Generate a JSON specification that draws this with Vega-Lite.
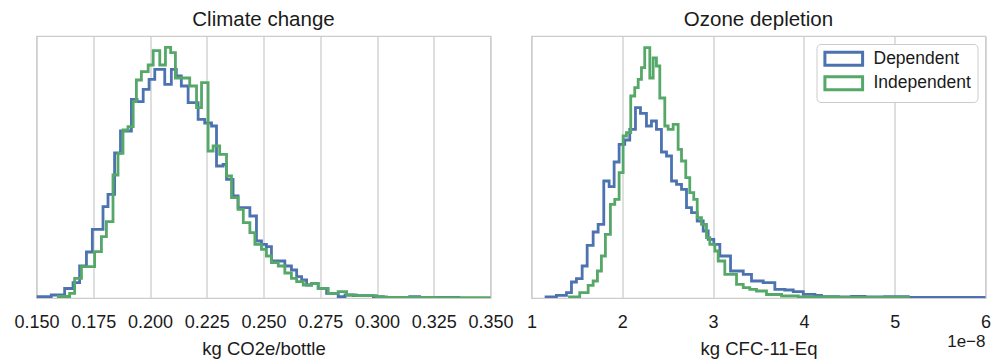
{
  "$schema": "https://vega.github.io/schema/vega-lite/v6.json",
  "background": "white",
  "padding": {"left": 12.5, "top": 8, "right": 5, "bottom": 5},
  "spacing": 41,
  "bounds": "flush",
  "config": {
    "font": "Liberation Sans",
    "view": {"stroke": "#cccccc", "strokeWidth": 1.25},
    "axis": {
      "grid": true, "gridColor": "#cccccc", "gridWidth": 1.25,
      "domain": false, "ticks": false, "labelOverlap": false, "labelBound": false, "labelFlush": false,
      "labelFont": "Liberation Sans", "labelFontSize": 18, "labelColor": "#1a1a1a", "labelPadding": 15,
      "titleFont": "Liberation Sans", "titleFontSize": 18.5, "titleFontWeight": "normal", "titleColor": "#1a1a1a", "titlePadding": 8
    },
    "title": {"font": "Liberation Sans", "fontSize": 20.5, "fontWeight": "normal", "color": "#1a1a1a", "offset": 6},
    "legend": {
      "labelFont": "Liberation Sans", "labelFontSize": 17.5, "labelColor": "#1a1a1a",
      "fillColor": "white", "strokeColor": "#cccccc", "cornerRadius": 4, "padding": 6, "rowPadding": -1.5
    }
  },
  "datasets": {
    "climate": [
      {"s": "Dependent", "x": 0.1500, "n": 1.3}, {"s": "Dependent", "x": 0.1565, "n": 3}, {"s": "Dependent", "x": 0.1624, "n": 9.5},
      {"s": "Dependent", "x": 0.1661, "n": 15.3}, {"s": "Dependent", "x": 0.1690, "n": 32}, {"s": "Dependent", "x": 0.1720, "n": 46},
      {"s": "Dependent", "x": 0.1746, "n": 68.7}, {"s": "Dependent", "x": 0.1793, "n": 91.3}, {"s": "Dependent", "x": 0.1815, "n": 103.7},
      {"s": "Dependent", "x": 0.1844, "n": 145}, {"s": "Dependent", "x": 0.1870, "n": 167}, {"s": "Dependent", "x": 0.1918, "n": 198.7},
      {"s": "Dependent", "x": 0.1943, "n": 196.3}, {"s": "Dependent", "x": 0.1970, "n": 208.7}, {"s": "Dependent", "x": 0.1996, "n": 218.7},
      {"s": "Dependent", "x": 0.2021, "n": 228.7}, {"s": "Dependent", "x": 0.2065, "n": 213.7}, {"s": "Dependent", "x": 0.2094, "n": 228.7},
      {"s": "Dependent", "x": 0.2116, "n": 222}, {"s": "Dependent", "x": 0.2138, "n": 212}, {"s": "Dependent", "x": 0.2168, "n": 195.3},
      {"s": "Dependent", "x": 0.2212, "n": 178.7}, {"s": "Dependent", "x": 0.2241, "n": 175}, {"s": "Dependent", "x": 0.2271, "n": 172},
      {"s": "Dependent", "x": 0.2293, "n": 132}, {"s": "Dependent", "x": 0.2322, "n": 133.7}, {"s": "Dependent", "x": 0.2337, "n": 118.7},
      {"s": "Dependent", "x": 0.2366, "n": 102}, {"s": "Dependent", "x": 0.2388, "n": 90.3}, {"s": "Dependent", "x": 0.2440, "n": 82},
      {"s": "Dependent", "x": 0.2469, "n": 57}, {"s": "Dependent", "x": 0.2491, "n": 53.7}, {"s": "Dependent", "x": 0.2513, "n": 51.3},
      {"s": "Dependent", "x": 0.2535, "n": 37}, {"s": "Dependent", "x": 0.2594, "n": 32}, {"s": "Dependent", "x": 0.2623, "n": 28},
      {"s": "Dependent", "x": 0.2646, "n": 21.3}, {"s": "Dependent", "x": 0.2668, "n": 18}, {"s": "Dependent", "x": 0.2690, "n": 13},
      {"s": "Dependent", "x": 0.2712, "n": 14.7}, {"s": "Dependent", "x": 0.2741, "n": 9.7}, {"s": "Dependent", "x": 0.2778, "n": 4.7},
      {"s": "Dependent", "x": 0.2829, "n": 1.3}, {"s": "Dependent", "x": 0.2859, "n": 3}, {"s": "Dependent", "x": 0.2896, "n": 2.3},
      {"s": "Dependent", "x": 0.2984, "n": 1.3}, {"s": "Dependent", "x": 0.3028, "n": 0.7}, {"s": "Dependent", "x": 0.3144, "n": 1.3},
      {"s": "Dependent", "x": 0.3188, "n": 0.5}, {"s": "Dependent", "x": 0.3360, "n": 0},
      {"s": "Independent", "x": 0.1590, "n": 1.5}, {"s": "Independent", "x": 0.1646, "n": 4.7}, {"s": "Independent", "x": 0.1668, "n": 19.7},
      {"s": "Independent", "x": 0.1698, "n": 31.3}, {"s": "Independent", "x": 0.1756, "n": 46.3}, {"s": "Independent", "x": 0.1786, "n": 61.3},
      {"s": "Independent", "x": 0.1808, "n": 76.3}, {"s": "Independent", "x": 0.1837, "n": 123}, {"s": "Independent", "x": 0.1859, "n": 144.7},
      {"s": "Independent", "x": 0.1881, "n": 168}, {"s": "Independent", "x": 0.1903, "n": 171.3}, {"s": "Independent", "x": 0.1926, "n": 196.3},
      {"s": "Independent", "x": 0.1940, "n": 218}, {"s": "Independent", "x": 0.1962, "n": 226.3}, {"s": "Independent", "x": 0.1992, "n": 233},
      {"s": "Independent", "x": 0.2014, "n": 247.3}, {"s": "Independent", "x": 0.2043, "n": 233}, {"s": "Independent", "x": 0.2068, "n": 250.7},
      {"s": "Independent", "x": 0.2091, "n": 245.3}, {"s": "Independent", "x": 0.2112, "n": 220}, {"s": "Independent", "x": 0.2175, "n": 212},
      {"s": "Independent", "x": 0.2205, "n": 190.3}, {"s": "Independent", "x": 0.2227, "n": 215.3}, {"s": "Independent", "x": 0.2256, "n": 147},
      {"s": "Independent", "x": 0.2278, "n": 152}, {"s": "Independent", "x": 0.2307, "n": 143.7}, {"s": "Independent", "x": 0.2337, "n": 122},
      {"s": "Independent", "x": 0.2359, "n": 100.3}, {"s": "Independent", "x": 0.2388, "n": 88.7}, {"s": "Independent", "x": 0.2411, "n": 75.3},
      {"s": "Independent", "x": 0.2440, "n": 65.3}, {"s": "Independent", "x": 0.2462, "n": 53.7}, {"s": "Independent", "x": 0.2491, "n": 48.7},
      {"s": "Independent", "x": 0.2513, "n": 42}, {"s": "Independent", "x": 0.2535, "n": 35.3}, {"s": "Independent", "x": 0.2565, "n": 32},
      {"s": "Independent", "x": 0.2594, "n": 25}, {"s": "Independent", "x": 0.2623, "n": 19.7}, {"s": "Independent", "x": 0.2646, "n": 16.3},
      {"s": "Independent", "x": 0.2675, "n": 13}, {"s": "Independent", "x": 0.2712, "n": 14.7}, {"s": "Independent", "x": 0.2741, "n": 9.7},
      {"s": "Independent", "x": 0.2785, "n": 4.7}, {"s": "Independent", "x": 0.2829, "n": 6.3}, {"s": "Independent", "x": 0.2866, "n": 3},
      {"s": "Independent", "x": 0.2910, "n": 2.3}, {"s": "Independent", "x": 0.2998, "n": 1}, {"s": "Independent", "x": 0.3042, "n": 0.7},
      {"s": "Independent", "x": 0.3263, "n": 0.4}, {"s": "Independent", "x": 0.3500, "n": 0}
    ],
    "ozone": [
      {"s": "Dependent", "x": 1.145, "n": 1}, {"s": "Dependent", "x": 1.274, "n": 2.7}, {"s": "Dependent", "x": 1.385, "n": 5.3},
      {"s": "Dependent", "x": 1.440, "n": 16}, {"s": "Dependent", "x": 1.495, "n": 19.3}, {"s": "Dependent", "x": 1.558, "n": 32},
      {"s": "Dependent", "x": 1.613, "n": 52.7}, {"s": "Dependent", "x": 1.679, "n": 66}, {"s": "Dependent", "x": 1.734, "n": 73.7},
      {"s": "Dependent", "x": 1.796, "n": 117}, {"s": "Dependent", "x": 1.855, "n": 111.3}, {"s": "Dependent", "x": 1.910, "n": 136},
      {"s": "Dependent", "x": 1.965, "n": 153.7}, {"s": "Dependent", "x": 2.027, "n": 158}, {"s": "Dependent", "x": 2.082, "n": 168.7},
      {"s": "Dependent", "x": 2.145, "n": 190.3}, {"s": "Dependent", "x": 2.200, "n": 184.7}, {"s": "Dependent", "x": 2.266, "n": 172},
      {"s": "Dependent", "x": 2.321, "n": 177}, {"s": "Dependent", "x": 2.376, "n": 168.7}, {"s": "Dependent", "x": 2.431, "n": 146},
      {"s": "Dependent", "x": 2.487, "n": 142}, {"s": "Dependent", "x": 2.542, "n": 117}, {"s": "Dependent", "x": 2.597, "n": 113.7},
      {"s": "Dependent", "x": 2.652, "n": 108.7}, {"s": "Dependent", "x": 2.707, "n": 90.3}, {"s": "Dependent", "x": 2.762, "n": 85.3},
      {"s": "Dependent", "x": 2.825, "n": 77}, {"s": "Dependent", "x": 2.891, "n": 67}, {"s": "Dependent", "x": 2.946, "n": 58.7},
      {"s": "Dependent", "x": 3.008, "n": 53.7}, {"s": "Dependent", "x": 3.074, "n": 42}, {"s": "Dependent", "x": 3.192, "n": 27},
      {"s": "Dependent", "x": 3.332, "n": 23.7}, {"s": "Dependent", "x": 3.423, "n": 17}, {"s": "Dependent", "x": 3.552, "n": 15.3},
      {"s": "Dependent", "x": 3.680, "n": 8.7}, {"s": "Dependent", "x": 3.790, "n": 8}, {"s": "Dependent", "x": 3.883, "n": 6.3},
      {"s": "Dependent", "x": 3.993, "n": 3.7}, {"s": "Dependent", "x": 4.121, "n": 2.7}, {"s": "Dependent", "x": 4.195, "n": 1.3},
      {"s": "Dependent", "x": 4.379, "n": 1}, {"s": "Dependent", "x": 4.525, "n": 1.7}, {"s": "Dependent", "x": 4.672, "n": 1},
      {"s": "Dependent", "x": 4.889, "n": 1.3}, {"s": "Dependent", "x": 5.150, "n": 0.7}, {"s": "Dependent", "x": 5.300, "n": 0.5},
      {"s": "Dependent", "x": 6.000, "n": 0},
      {"s": "Independent", "x": 1.403, "n": 1}, {"s": "Independent", "x": 1.531, "n": 5.3}, {"s": "Independent", "x": 1.624, "n": 12.7},
      {"s": "Independent", "x": 1.679, "n": 17}, {"s": "Independent", "x": 1.726, "n": 27}, {"s": "Independent", "x": 1.770, "n": 42},
      {"s": "Independent", "x": 1.814, "n": 63.7}, {"s": "Independent", "x": 1.869, "n": 93.7}, {"s": "Independent", "x": 1.917, "n": 98.7},
      {"s": "Independent", "x": 1.965, "n": 125.3}, {"s": "Independent", "x": 2.009, "n": 162}, {"s": "Independent", "x": 2.046, "n": 165.3},
      {"s": "Independent", "x": 2.093, "n": 202}, {"s": "Independent", "x": 2.137, "n": 210.3}, {"s": "Independent", "x": 2.175, "n": 218.7},
      {"s": "Independent", "x": 2.211, "n": 230.3}, {"s": "Independent", "x": 2.247, "n": 250.3}, {"s": "Independent", "x": 2.303, "n": 220},
      {"s": "Independent", "x": 2.340, "n": 240}, {"s": "Independent", "x": 2.376, "n": 232}, {"s": "Independent", "x": 2.413, "n": 200},
      {"s": "Independent", "x": 2.468, "n": 172}, {"s": "Independent", "x": 2.505, "n": 168.7}, {"s": "Independent", "x": 2.560, "n": 173.7},
      {"s": "Independent", "x": 2.615, "n": 148.7}, {"s": "Independent", "x": 2.652, "n": 137}, {"s": "Independent", "x": 2.699, "n": 120.3},
      {"s": "Independent", "x": 2.743, "n": 105.3}, {"s": "Independent", "x": 2.787, "n": 98.7}, {"s": "Independent", "x": 2.825, "n": 80.3},
      {"s": "Independent", "x": 2.872, "n": 73.7}, {"s": "Independent", "x": 2.927, "n": 60.3}, {"s": "Independent", "x": 2.964, "n": 53.7},
      {"s": "Independent", "x": 3.019, "n": 47}, {"s": "Independent", "x": 3.056, "n": 37}, {"s": "Independent", "x": 3.129, "n": 23.7},
      {"s": "Independent", "x": 3.258, "n": 13.7}, {"s": "Independent", "x": 3.332, "n": 10.3}, {"s": "Independent", "x": 3.404, "n": 8.7},
      {"s": "Independent", "x": 3.478, "n": 7}, {"s": "Independent", "x": 3.588, "n": 3.5}, {"s": "Independent", "x": 3.754, "n": 2},
      {"s": "Independent", "x": 3.938, "n": 1}, {"s": "Independent", "x": 4.379, "n": 0.6}, {"s": "Independent", "x": 5.150, "n": 0}
    ]
  },
  "resolve": {"scale": {"x": "independent", "y": "independent"}, "legend": {"color": "independent"}},
  "hconcat": [
    {
      "width": 454, "height": 262,
      "title": "Climate change",
      "data": {"name": "climate"},
      "mark": {"type": "line", "interpolate": "step-after", "strokeWidth": 2.8, "clip": true},
      "encoding": {
        "x": {"field": "x", "type": "quantitative", "title": "kg CO2e/bottle",
              "scale": {"domain": [0.15, 0.35], "nice": false, "zero": false},
              "axis": {"values": [0.15, 0.175, 0.2, 0.225, 0.25, 0.275, 0.3, 0.325, 0.35], "format": ".3f"}},
        "y": {"field": "n", "type": "quantitative", "scale": {"domain": [0, 262], "nice": false}, "axis": null},
        "color": {"field": "s", "type": "nominal",
                  "scale": {"domain": ["Dependent", "Independent"], "range": ["#4c72b0", "#55a868"]},
                  "legend": null}
      }
    },
    {
      "width": 454, "height": 262,
      "title": "Ozone depletion",
      "layer": [
        {
          "data": {"name": "ozone"},
          "mark": {"type": "line", "interpolate": "step-after", "strokeWidth": 2.8, "clip": true},
          "encoding": {
            "x": {"field": "x", "type": "quantitative", "title": "kg CFC-11-Eq",
                  "scale": {"domain": [1, 6], "nice": false, "zero": false},
                  "axis": {"values": [1, 2, 3, 4, 5, 6], "format": "d"}},
            "y": {"field": "n", "type": "quantitative", "scale": {"domain": [0, 262], "nice": false}, "axis": null},
            "color": {"field": "s", "type": "nominal",
                      "scale": {"domain": ["Dependent", "Independent"], "range": ["#4c72b0", "#55a868"]},
                      "legend": {"title": null, "orient": "top-right", "offset": 8,
                                 "symbolType": "M-2.9,-1H2.9V1H-2.9Z", "symbolSize": 169, "symbolStrokeWidth": 3,
                                 "symbolOffset": 12.5, "labelOffset": 21,
                                 "symbolFillColor": "white"}}
          }
        },
        {
          "data": {"values": [{"t": "1e\u22128"}]},
          "mark": {"type": "text", "align": "right", "baseline": "top", "dy": 36, "fontSize": 17, "color": "#1a1a1a"},
          "encoding": {
            "x": {"datum": 6},
            "y": {"datum": 0},
            "text": {"field": "t"}
          }
        }
      ]
    }
  ]
}
